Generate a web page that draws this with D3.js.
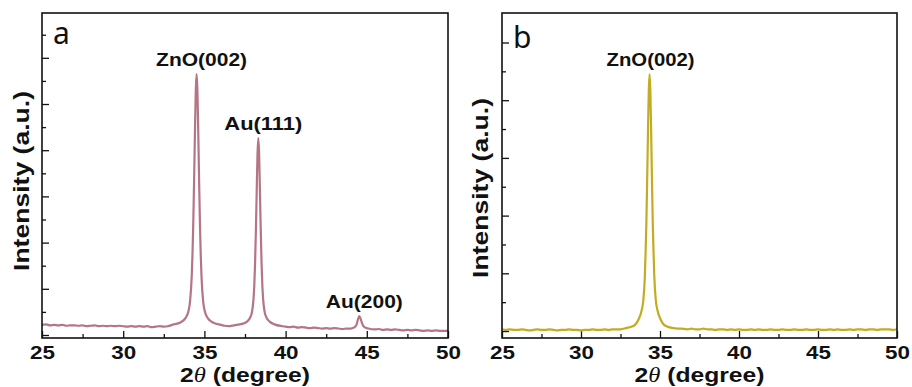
<!DOCTYPE html>
<html>
<head>
<meta charset="utf-8">
<script src="https://cdn.jsdelivr.net/npm/d3@7"></script>
<style>
  body { margin: 0; background: #fff; }
  svg text { font-family: 'Liberation Sans', Arial, sans-serif; }
</style>
</head>
<body>
<svg id="chart" width="912" height="387"></svg>
<script>
// panel a: ZnO on Au
const twoThetaA = [25.0,25.25,25.5,25.75,26.0,26.25,26.5,26.75,27.0,27.25,27.5,27.75,28.0,28.25,28.5,28.75,29.0,29.25,29.5,29.75,30.0,30.25,30.5,30.75,31.0,31.25,31.5,31.75,32.0,32.25,32.5,32.75,
  33.02,33.52,33.82,34.02,34.12,34.22,34.27,34.32,34.37,34.42,34.47,34.52,34.57,34.62,34.67,34.72,34.77,34.82,34.92,35.02,35.22,35.52,36.02,36.25,36.5,
  36.82,37.32,37.62,37.82,37.92,38.02,38.07,38.12,38.17,38.22,38.27,38.32,38.37,38.42,38.47,38.52,38.57,38.62,38.72,38.82,39.02,39.32,39.82,
  40.0,40.25,40.5,40.75,41.0,41.25,41.5,41.75,42.0,42.25,42.5,42.75,43.0,43.25,43.5,43.75,44.0,44.2,44.35,44.45,44.54,44.62,44.72,44.85,45.1,45.5,
  45.75,46.0,46.25,46.5,46.75,47.0,47.25,47.5,47.75,48.0,48.25,48.5,48.75,49.0,49.25,49.5,49.75,50.0];
const intensityA = [0.22,0.23,0.21,0.22,0.21,0.22,0.20,0.21,0.21,0.20,0.21,0.19,0.20,0.21,0.19,0.20,0.19,0.20,0.19,0.20,0.19,0.18,0.19,0.18,0.19,0.18,0.19,0.17,0.18,0.19,0.18,0.19,
  0.22,0.27,0.36,0.52,0.74,1.28,1.78,2.50,3.42,4.42,5.29,5.65,5.29,4.42,3.42,2.50,1.78,1.28,0.74,0.52,0.36,0.27,0.22,0.20,0.19,
  0.21,0.24,0.29,0.38,0.48,0.76,1.06,1.55,2.25,3.10,3.91,4.26,3.91,3.10,2.25,1.55,1.06,0.76,0.48,0.38,0.29,0.23,0.19,
  0.18,0.17,0.18,0.16,0.17,0.16,0.15,0.16,0.15,0.14,0.15,0.14,0.15,0.14,0.13,0.14,0.14,0.16,0.21,0.33,0.41,0.35,0.24,0.17,0.14,0.12,
  0.13,0.11,0.12,0.11,0.12,0.11,0.10,0.11,0.10,0.11,0.10,0.09,0.10,0.09,0.10,0.09,0.09,0.09];
const peakNamesA = ['ZnO(002)', 'Au(111)', 'Au(200)'];
const peakPosA = [34.52, 38.32, 44.54];
const peakTopA = [5.65, 4.26, 0.41];

// panel b: ZnO only
const twoThetaB = [25.0,25.25,25.5,25.75,26.0,26.25,26.5,26.75,27.0,27.25,27.5,27.75,28.0,28.25,28.5,28.75,29.0,29.25,29.5,29.75,30.0,30.25,30.5,30.75,31.0,31.25,31.5,31.75,32.0,32.25,32.5,
  32.84,33.34,33.64,33.84,33.94,34.04,34.09,34.14,34.19,34.24,34.29,34.34,34.39,34.44,34.49,34.54,34.59,34.64,34.74,34.84,35.04,35.34,35.84,36.34,
  36.75,37.0,37.25,37.5,37.75,38.0,38.25,38.5,38.75,39.0,39.25,39.5,39.75,40.0,40.25,40.5,40.75,41.0,41.25,41.5,41.75,42.0,42.25,42.5,42.75,43.0,
  43.25,43.5,43.75,44.0,44.25,44.5,44.75,45.0,45.25,45.5,45.75,46.0,46.25,46.5,46.75,47.0,47.25,47.5,47.75,48.0,48.25,48.5,48.75,49.0,49.25,49.5,49.75,50.0];
const intensityB = [0.03,0.02,0.03,0.02,0.02,0.03,0.02,0.01,0.02,0.03,0.02,0.02,0.03,0.02,0.01,0.02,0.02,0.03,0.02,0.02,0.01,0.02,0.02,0.03,0.02,0.02,0.03,0.02,0.03,0.03,0.03,
  0.05,0.09,0.20,0.36,0.52,0.94,1.37,1.90,2.64,3.46,4.16,4.45,4.16,3.46,2.64,1.90,1.37,0.94,0.52,0.36,0.20,0.09,0.05,0.04,
  0.03,0.04,0.03,0.03,0.04,0.03,0.03,0.02,0.03,0.03,0.02,0.03,0.02,0.03,0.02,0.02,0.03,0.02,0.03,0.02,0.02,0.03,0.02,0.02,0.03,0.02,
  0.02,0.03,0.02,0.02,0.03,0.02,0.02,0.03,0.02,0.02,0.03,0.02,0.03,0.02,0.02,0.03,0.02,0.03,0.03,0.02,0.03,0.03,0.02,0.03,0.03,0.03,0.02,0.03];
const peakNamesB = ['ZnO(002)'];
const peakPosB = [34.34];
const peakTopB = [4.45];

const xMajor = [25, 30, 35, 40, 45, 50];
const xMinor = [27.5, 32.5, 37.5, 42.5, 47.5];

const svg = d3.select('#chart');

function drawPanel(p) {
    const g = svg.append('g');

    const xScale = d3.scaleLinear().domain([25, 50]).range([p.left, p.right]);
    const yScale = d3.scaleLinear().domain(p.yDomain).range([p.bottom, p.top]);

    const yMajor = d3.range(0, p.yDomain[1], 1);
    const yMinor = d3.range(0.5, p.yDomain[1] - 0.3, 1);

    // bottom axis, ticks inside
    g.append('g')
        .attr('transform', `translate(0, ${p.bottom})`)
        .call(d3.axisBottom(xScale).tickValues(xMajor).tickSize(-7).tickSizeOuter(0).tickPadding(7.5).tickFormat(d3.format('d')))
        .call(a => a.select('.domain').remove())
        .selectAll('text')
        .attr('transform', 'scale(1.18,1)')
        .style('font-size', '19px')
        .style('font-weight', 'bold')
        .attr('fill', '#111');

    g.append('g')
        .attr('transform', `translate(0, ${p.bottom})`)
        .call(d3.axisBottom(xScale).tickValues(xMinor).tickSize(-4).tickSizeOuter(0).tickFormat(''))
        .call(a => a.select('.domain').remove());

    // left axis, no labels
    g.append('g')
        .attr('transform', `translate(${p.left}, 0)`)
        .call(d3.axisLeft(yScale).tickValues(yMajor).tickSize(-7).tickSizeOuter(0).tickFormat(''))
        .call(a => a.select('.domain').remove());

    g.append('g')
        .attr('transform', `translate(${p.left}, 0)`)
        .call(d3.axisLeft(yScale).tickValues(yMinor).tickSize(-4).tickSizeOuter(0).tickFormat(''))
        .call(a => a.select('.domain').remove());

    g.selectAll('.tick line').attr('stroke', '#111').attr('stroke-width', 1.3);

    const points = p.x.map((d, i) => [d, p.y[i]]);
    const line = d3.line()
        .x(d => xScale(d[0]))
        .y(d => yScale(d[1]))
        .curve(d3.curveMonotoneX);

    g.append('path')
        .datum(points)
        .attr('fill', 'none')
        .attr('stroke', p.color)
        .attr('stroke-width', 2.2)
        .attr('stroke-linejoin', 'round')
        .attr('d', line);

    // frame
    g.append('rect')
        .attr('x', p.left)
        .attr('y', p.top)
        .attr('width', p.right - p.left)
        .attr('height', p.bottom - p.top)
        .attr('fill', 'none')
        .attr('stroke', '#111')
        .attr('stroke-width', 1.6);

    // peak labels
    p.names.forEach((name, i) => {
        g.append('text')
            .attr('x', xScale(p.pos[i]) + p.labelDx)
            .attr('y', yScale(p.tops[i]) - 8)
            .attr('text-anchor', 'middle')
            .style('font-size', '18px')
            .style('font-weight', 'bold')
            .attr('textLength', p.labelW[i])
            .attr('lengthAdjust', 'spacingAndGlyphs')
            .attr('fill', '#111')
            .text(name);
    });

    // panel letter
    g.append('text')
        .attr('x', p.left + 11)
        .attr('y', p.letterY)
        .style('font-family', "'Noto Sans', 'Open Sans', sans-serif")
        .style('font-size', '30px')
        .attr('fill', '#111')
        .text(p.letter);

    // x axis title
    const xt = g.append('text')
        .attr('x', (p.left + p.right) / 2)
        .attr('y', 382)
        .attr('text-anchor', 'middle')
        .attr('textLength', 130)
        .attr('lengthAdjust', 'spacingAndGlyphs')
        .style('font-size', '20px')
        .style('font-weight', 'bold')
        .attr('fill', '#111');
    xt.append('tspan').text('2');
    xt.append('tspan')
        .style('font-family', "'Liberation Serif', 'Times New Roman', serif")
        .style('font-style', 'italic')
        .style('font-weight', 'normal')
        .text('\u03B8');
    xt.append('tspan').text(' (degree)');

    // y axis title
    g.append('text')
        .attr('transform', `translate(${p.yTitleX}, ${p.yTitleY}) rotate(-90)`)
        .attr('text-anchor', 'middle')
        .attr('textLength', 180)
        .attr('lengthAdjust', 'spacingAndGlyphs')
        .style('font-size', '22px')
        .style('font-weight', 'bold')
        .attr('fill', '#111')
        .text('Intensity (a.u.)');
}

drawPanel({
    left: 42, right: 448, top: 13, bottom: 338,
    yDomain: [-0.065, 6.97],
    x: twoThetaA, y: intensityA,
    color: '#b47585',
    names: peakNamesA, pos: peakPosA, tops: peakTopA,
    labelDx: 5, labelW: [91, 78, 77],
    letter: 'a', letterY: 44,
    yTitleX: 29, yTitleY: 181
});

drawPanel({
    left: 502, right: 897, top: 13, bottom: 338,
    yDomain: [-0.121, 5.511],
    x: twoThetaB, y: intensityB,
    color: '#c2ac22',
    names: peakNamesB, pos: peakPosB, tops: peakTopB,
    labelDx: 1, labelW: [88],
    letter: 'b', letterY: 48,
    yTitleX: 488, yTitleY: 188
});
</script>
</body>
</html>
